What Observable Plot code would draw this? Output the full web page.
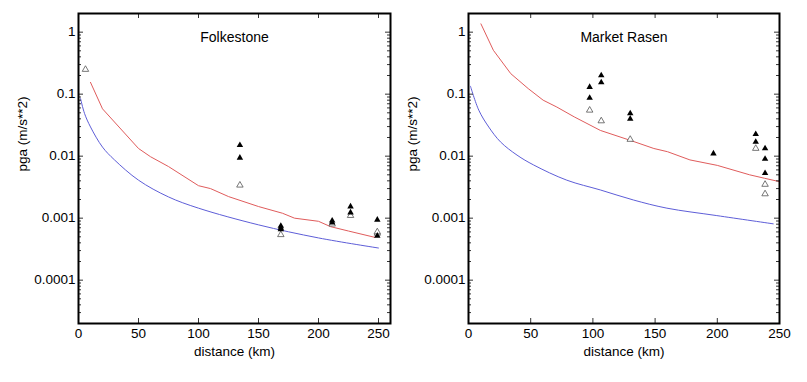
<!DOCTYPE html>
<html>
<head>
<meta charset="utf-8">
<script src="https://cdn.jsdelivr.net/npm/d3@7"></script>
<script src="https://cdn.jsdelivr.net/npm/@observablehq/plot@0.6"></script>
<style>
  html, body { margin: 0; padding: 0; background: #fff; }
  #wrap { position: relative; width: 807px; height: 382px; }
  #left { position: absolute; left: 0; top: 0; }
  #right { position: absolute; left: 400px; top: 0; }
</style>
</head>
<body>
<div id="wrap"><div id="left"></div><div id="right"></div></div>
<script>
// ---- tick labels ----
const xTicks = [0, 50, 100, 150, 200, 250];
const yTicks = [0.0001, 0.001, 0.01, 0.1, 1];
const yTickLabels = ["0.0001", "0.001", "0.01", "0.1", "1"];
const yLabel = "pga (m/s**2)";
const xLabel = "distance (km)";

// ---- Folkestone ----
const fkTitle = "Folkestone";
const fkRedX = [10, 20, 50, 60, 75, 100, 110, 125, 150, 170, 180, 200, 210, 225, 247];
const fkRedY = [0.155, 0.058, 0.0133, 0.0098, 0.0068, 0.00334, 0.0030, 0.00223, 0.00154, 0.0012, 0.00100, 0.00089, 0.00073, 0.00062, 0.00049];
const fkBlueX = [1.7, 5, 10, 20, 30, 50, 75, 100, 150, 200, 250];
const fkBlueY = [0.085, 0.049, 0.0296, 0.014, 0.0087, 0.0041, 0.0022, 0.00145, 0.00078, 0.00048, 0.00033];
const fkFilledX = [134.5, 134.5, 168.6, 168.6, 168.6, 211.4, 211.4, 226.7, 226.7, 249, 249];
const fkFilledY = [0.015, 0.0094, 0.00075, 0.0007, 0.00066, 0.00091, 0.00085, 0.00154, 0.00123, 0.00094, 0.00052];
const fkOpenX = [5.8, 134.5, 168.6, 211.4, 226.7, 249, 249];
const fkOpenY = [0.25, 0.0034, 0.00054, 0.0008, 0.0011, 0.00057, 0.00060];

// ---- Market Rasen ----
const mrTitle = "Market Rasen";
const mrRedX = [10, 20, 34, 48, 60, 71, 85, 106, 130, 149, 160, 178, 200, 226, 238, 252];
const mrRedY = [1.36, 0.51, 0.214, 0.123, 0.08, 0.062, 0.043, 0.026, 0.018, 0.0133, 0.0118, 0.0087, 0.0071, 0.005, 0.0044, 0.0038];
const mrBlueX = [1.6, 8.3, 16.3, 25.7, 39, 52.4, 79, 106, 132.7, 159.5, 199.6, 245];
const mrBlueY = [0.134, 0.055, 0.0295, 0.017, 0.0104, 0.0072, 0.0041, 0.00285, 0.00196, 0.00145, 0.0011, 0.00081];
const mrFilledX = [97.4, 97.4, 106.7, 106.7, 130, 130, 196.9, 230.9, 230.9, 238.4, 238.4, 238.4];
const mrFilledY = [0.13, 0.087, 0.2, 0.155, 0.049, 0.04, 0.011, 0.0226, 0.017, 0.0133, 0.0090, 0.0053];
const mrOpenX = [97.4, 106.7, 130, 230.9, 238.4, 238.4];
const mrOpenY = [0.055, 0.037, 0.0186, 0.0133, 0.0035, 0.00246];

const redColor = "#e05c5c";
const blueColor = "#5e5ed8";
const FS = 13.5;

// minor log ticks
const yMinor = [];
for (let e = -5; e <= 0; e++) for (let m = 2; m <= 9; m++) {
  const v = m * Math.pow(10, e);
  if (v >= 2e-5 && v <= 2) yMinor.push(v);
}

function zip(xs, ys) { return xs.map((x, i) => ({x, y: ys[i]})); }

function panel({title, xDomain, marginLeft, marginRight, width, redX, redY, blueX, blueY, filledX, filledY, openX, openY}) {
  const H = 382, mT = 13, mB = 59;
  const fw = width - marginLeft - marginRight;  // frame width (px)
  const fh = H - mT - mB;                       // frame height (px)
  const maj = 5, mnr = 3;
  const tickStroke = "#333";
  return Plot.plot({
    width, height: H,
    marginLeft, marginRight, marginTop: mT, marginBottom: mB,
    style: {fontFamily: "Liberation Sans, Arial, sans-serif", fontSize: FS + "px", color: "black", background: "white"},
    x: {domain: xDomain, nice: false},
    y: {type: "log", domain: [2e-5, 2], nice: false},
    marks: [
      Plot.line(zip(blueX, blueY), {x: "x", y: "y", stroke: blueColor, strokeWidth: 1, curve: "catmull-rom", clip: true}),
      Plot.line(zip(redX, redY), {x: "x", y: "y", stroke: redColor, strokeWidth: 1, clip: true}),
      Plot.dot(zip(openX, openY), {x: "x", y: "y", symbol: "triangle", r: 2.4, fill: "white", stroke: "#555", strokeWidth: 0.8}),
      Plot.dot(zip(filledX, filledY), {x: "x", y: "y", symbol: "triangle", r: 2.4, fill: "black", stroke: "none"}),
      // tick labels
      Plot.axisX({ticks: xTicks, tickSize: 0, tickPadding: 5, label: null, fontSize: FS, tickFormat: d => String(d)}),
      Plot.axisY({ticks: yTicks, tickSize: 0, tickPadding: 3, label: null, fontSize: FS, tickFormat: d => yTickLabels[yTicks.indexOf(d)]}),
      // inward major ticks
      Plot.tickX(xTicks, {x: d => d, insetTop: fh - maj, stroke: tickStroke}),
      Plot.tickX(xTicks, {x: d => d, insetBottom: fh - maj, stroke: tickStroke}),
      Plot.tickY(yTicks, {y: d => d, insetRight: fw - maj, stroke: tickStroke}),
      Plot.tickY(yTicks, {y: d => d, insetLeft: fw - maj, stroke: tickStroke}),
      // inward minor ticks
      Plot.tickY(yMinor, {y: d => d, insetRight: fw - mnr, stroke: tickStroke}),
      Plot.tickY(yMinor, {y: d => d, insetLeft: fw - mnr, stroke: tickStroke}),
      Plot.frame({stroke: "black", strokeWidth: 2}),
      Plot.text([title], {frameAnchor: "top", dy: 19, text: d => d, fontSize: 14, fill: "black"}),
      Plot.text([xLabel], {frameAnchor: "bottom", dy: 32, text: d => d, fontSize: FS, fill: "black"}),
      Plot.text([yLabel], {frameAnchor: "left", dx: -56, dy: 3, rotate: -90, text: d => d, fontSize: FS, fill: "black"})
    ]
  });
}

document.getElementById("left").append(panel({
  title: fkTitle, xDomain: [0, 260], marginLeft: 78, marginRight: 10, width: 400,
  redX: fkRedX, redY: fkRedY, blueX: fkBlueX, blueY: fkBlueY,
  filledX: fkFilledX, filledY: fkFilledY, openX: fkOpenX, openY: fkOpenY
}));
document.getElementById("right").append(panel({
  title: mrTitle, xDomain: [0, 250], marginLeft: 68, marginRight: 28, width: 407,
  redX: mrRedX, redY: mrRedY, blueX: mrBlueX, blueY: mrBlueY,
  filledX: mrFilledX, filledY: mrFilledY, openX: mrOpenX, openY: mrOpenY
}));
</script>
</body>
</html>
